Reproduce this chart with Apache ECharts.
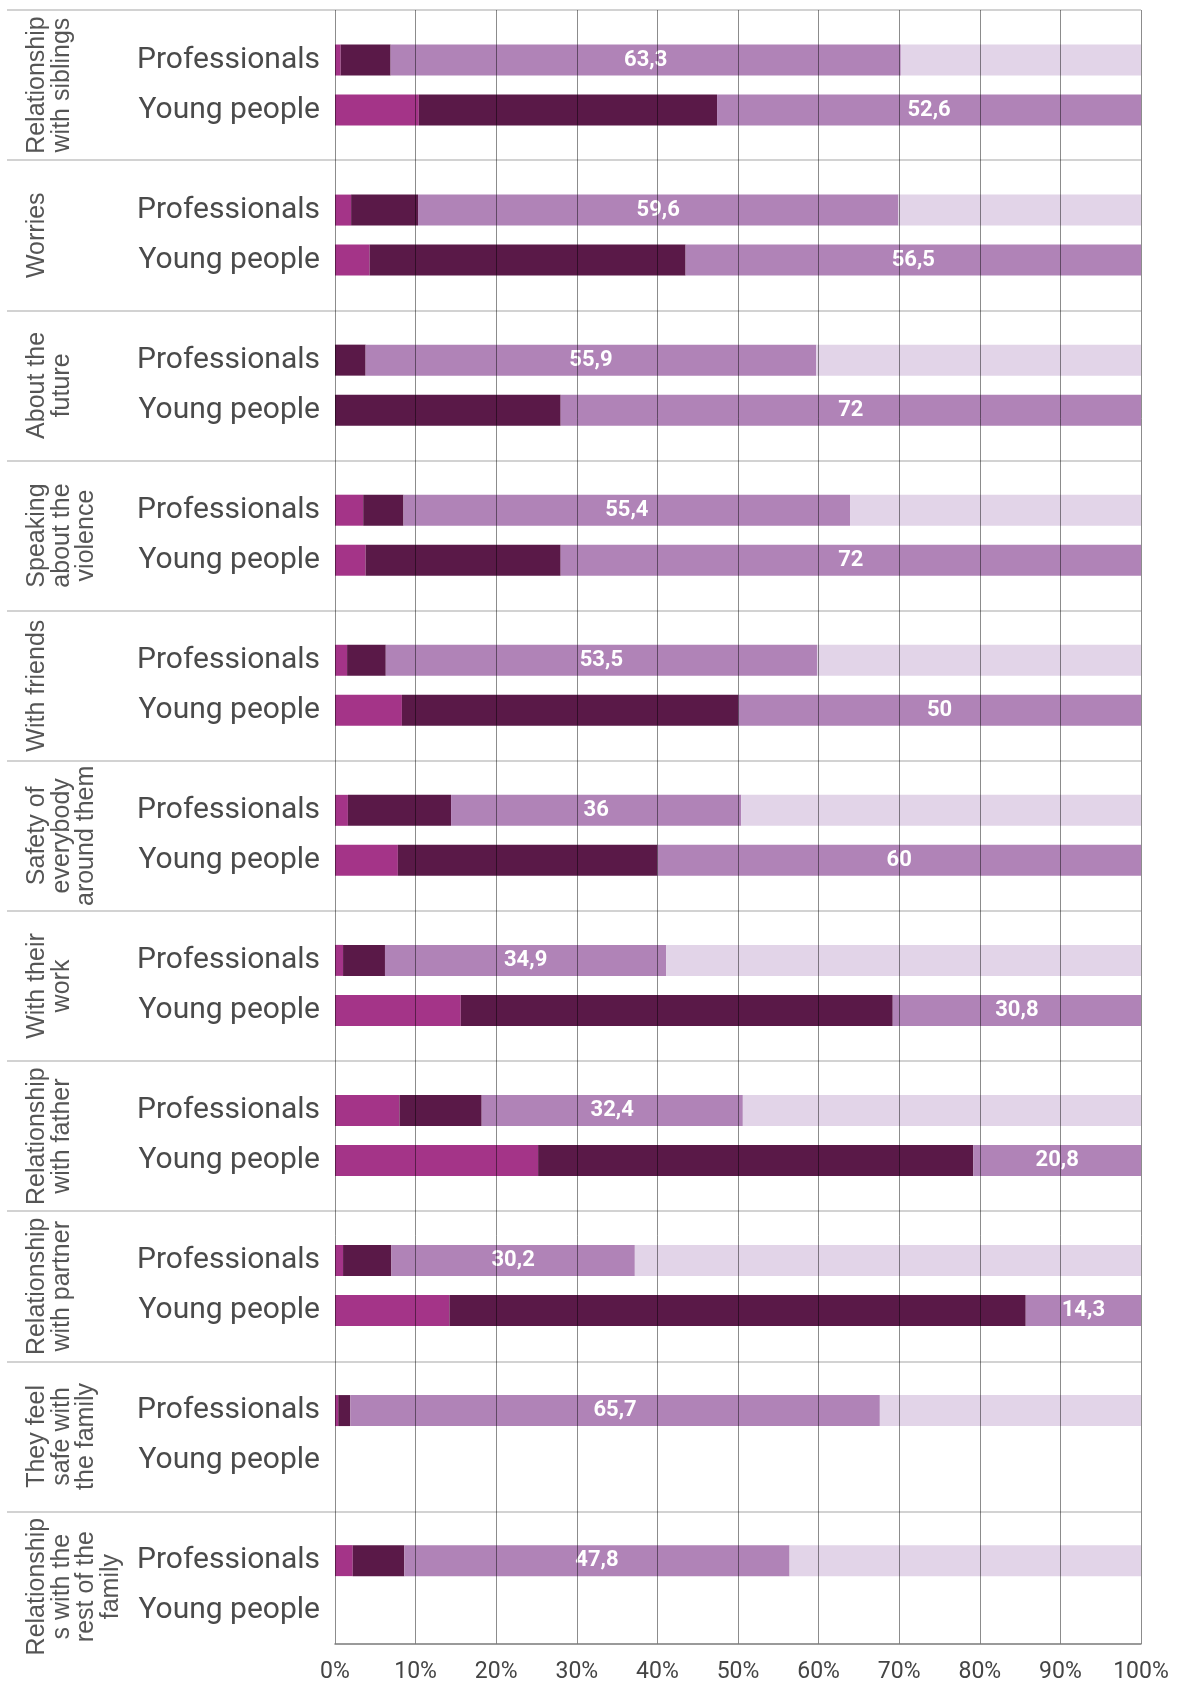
<!DOCTYPE html>
<html><head><meta charset="utf-8">
<script src="https://cdn.jsdelivr.net/npm/echarts@6/dist/echarts.min.js"></script>
<style>html,body{margin:0;padding:0;background:#fff}#c{width:1179px;height:1684px}</style>
</head><body><div id="c"></div>
<script>
// ---- data ----
const groupLabels = [
  'Relationship\nwith siblings',
  'Worries',
  'About the\nfuture',
  'Speaking\nabout the\nviolence',
  'With friends',
  'Safety of\neverybody\naround them',
  'With their\nwork',
  'Relationship\nwith father',
  'Relationship\nwith partner',
  'They feel\nsafe with\nthe family',
  'Relationship\ns with the\nrest of the\nfamily'
];
const rowLabels = ['Professionals', 'Young people'];
const xTickLabels = ['0%','10%','20%','30%','40%','50%','60%','70%','80%','90%','100%'];

const profMagenta = [0.7, 2.0, 0, 3.5, 1.5, 1.6, 1.0, 8.0, 1.0, 0.4, 2.2];
const profDark    = [6.2, 8.3, 3.8, 5.0, 4.8, 12.8, 5.2, 10.2, 6.0, 1.5, 6.4];
const profMedium  = [63.3, 59.6, 55.9, 55.4, 53.5, 36, 34.9, 32.4, 30.2, 65.7, 47.8];
const profLight   = [29.8, 30.1, 40.3, 36.1, 40.2, 49.6, 58.9, 49.4, 62.8, 32.4, 43.6];

const youngMagenta = [10.4, 4.3, 0, 3.8, 8.3, 7.8, 15.6, 25.2, 14.2, null, null];
const youngDark    = [37.0, 39.2, 28.0, 24.2, 41.7, 32.2, 53.6, 54.0, 71.5, null, null];
const youngMedium  = [52.6, 56.5, 72, 72, 50, 60, 30.8, 20.8, 14.3, null, null];
const youngLight   = [null, null, null, null, null, null, null, null, null, null, null];

// ---- build the fine category axis: 9 points per group ----
const PTS = 9, P_IDX = 3, Y_IDX = 6;
const cats = [], catText = {};
groupLabels.forEach((g, gi) => {
  for (let k = 0; k < PTS; k++) {
    const key = 'g' + gi + 'p' + k;
    cats.push(key);
    catText[key] = k === P_IDX ? rowLabels[0] : (k === Y_IDX ? rowLabels[1] : '');
  }
});
function build(profArr, youngArr) {
  const out = cats.map(() => '-');
  groupLabels.forEach((g, gi) => {
    if (profArr[gi] != null) out[gi * PTS + P_IDX] = profArr[gi];
    if (youngArr[gi] != null) out[gi * PTS + Y_IDX] = youngArr[gi];
  });
  return out;
}

const TOP = 10, H = 1635, BAND = H / (cats.length - 1) * PTS;
const chart = echarts.init(document.getElementById('c'), null, {renderer: 'canvas'});

const barCommon = {type: 'bar', stack: 'all', xAxisIndex: 0, yAxisIndex: 0, barWidth: 31};

chart.setOption({
  animation: false,
  backgroundColor: '#ffffff',
  grid: [
    {left: 335, right: 38, top: TOP, height: H},                    // bars
    {left: 7, right: 38, top: TOP, height: H},                      // separators
    {left: 7, right: 38, top: TOP, height: BAND * groupLabels.length} // group labels
  ],
  xAxis: [
    {
      gridIndex: 0, type: 'value', min: 0, max: 100, interval: 10, z: 5,
      axisLine: {show: true, lineStyle: {color: '#7a7a7a', width: 1.5}},
      axisTick: {show: false},
      splitLine: {show: true, lineStyle: {color: 'rgba(0,0,0,0.45)', width: 1}},
      axisLabel: {
        margin: 17, fontSize: 23, color: '#444', fontFamily: 'Roboto',
        formatter: (v) => xTickLabels[Math.round(v / 10)]
      }
    },
    {gridIndex: 1, type: 'value', show: false},
    {gridIndex: 2, type: 'value', show: false}
  ],
  yAxis: [
    {
      gridIndex: 0, type: 'category', inverse: true, boundaryGap: false, data: cats,
      axisLine: {show: false}, axisTick: {show: false}, splitLine: {show: false},
      axisLabel: {
        interval: 0, margin: 15, fontSize: 30, color: '#4a4a4a', fontFamily: 'Roboto',
        formatter: (v) => catText[v]
      }
    },
    {
      gridIndex: 1, type: 'category', inverse: true, boundaryGap: false, data: cats,
      axisLine: {show: false}, axisTick: {show: false}, axisLabel: {show: false},
      splitLine: {show: true, interval: (i) => i % PTS === 0, lineStyle: {color: '#d2d2d2', width: 2}}
    },
    {
      gridIndex: 2, type: 'category', inverse: true, boundaryGap: true, data: groupLabels,
      axisLine: {show: false}, axisTick: {show: false}, splitLine: {show: false},
      axisLabel: {
        interval: 0, rotate: 90, margin: -18, align: 'center', verticalAlign: 'top',
        fontSize: 25, lineHeight: 24.5, color: '#555', fontFamily: 'Liberation Sans'
      }
    }
  ],
  series: [
    Object.assign({}, barCommon, {name: 'a', itemStyle: {color: '#A43488'}, data: build(profMagenta, youngMagenta)}),
    Object.assign({}, barCommon, {name: 'b', itemStyle: {color: '#5A1948'}, data: build(profDark, youngDark)}),
    Object.assign({}, barCommon, {
      name: 'c', itemStyle: {color: '#B083B7'}, data: build(profMedium, youngMedium),
      label: {
        show: true, position: 'inside', color: '#fff', fontSize: 22, fontWeight: 'bold',
        fontFamily: 'Roboto', formatter: (p) => String(p.value).replace('.', ',')
      }
    }),
    Object.assign({}, barCommon, {name: 'd', itemStyle: {color: '#E2D4E8'}, data: build(profLight, youngLight)})
  ]
});
</script>
</body></html>
